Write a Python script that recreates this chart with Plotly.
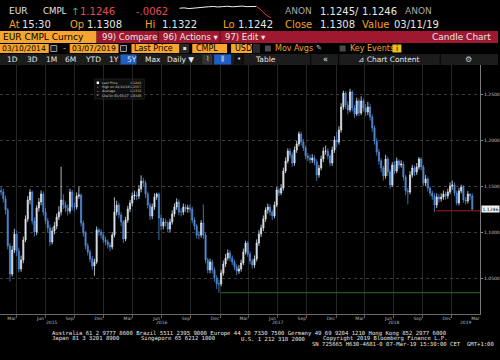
import pandas as pd
import plotly.graph_objects as go

# ---------------- data ----------------
week_dates = pd.date_range("2015-02-11", periods=213, freq="7D")
first_open = 1.1450
closes = [
1.1435, 1.1362, 1.1239, 1.0848, 1.0543, 1.0804, 1.0978, 1.0793, 1.0598, 1.0696,
1.0913, 1.1141, 1.1348, 1.1435, 1.1120, 1.1000, 1.1261, 1.1326, 1.1413, 1.1217,
1.1120, 1.1043, 1.0891, 1.1011, 1.1065, 1.1163, 1.1217, 1.1348, 1.1293, 1.1261,
1.1228, 1.1435, 1.1272, 1.1272, 1.1391, 1.1402, 1.1098, 1.0989, 1.0848, 1.0783,
1.0707, 1.0630, 1.0674, 1.1022, 1.1000, 1.0967, 1.0913, 1.0891, 1.0859, 1.0837,
1.0967, 1.1217, 1.1293, 1.1185, 1.1109, 1.0924, 1.1130, 1.1250, 1.1315, 1.1391,
1.1402, 1.1391, 1.1467, 1.1554, 1.1533, 1.1413, 1.1293, 1.1174, 1.1272, 1.1380,
1.1413, 1.1152, 1.1065, 1.1109, 1.1098, 1.1033, 1.1109, 1.1196, 1.1272, 1.1326,
1.1217, 1.1217, 1.1272, 1.1250, 1.1261, 1.1250, 1.1130, 1.1065, 1.0967, 1.0967,
1.1098, 1.0967, 1.0696, 1.0587, 1.0674, 1.0587, 1.0500, 1.0435, 1.0435, 1.0554,
1.0652, 1.0717, 1.0772, 1.0717, 1.0674, 1.0620, 1.0576, 1.0598, 1.0663, 1.0783,
1.0880, 1.0761, 1.0685, 1.0641, 1.0707, 1.0880, 1.0978, 1.1043, 1.1141, 1.1239,
1.1272, 1.1217, 1.1174, 1.1293, 1.1457, 1.1424, 1.1478, 1.1663, 1.1772, 1.1880,
1.1837, 1.1750, 1.1891, 1.1957, 1.2065, 1.1978, 1.1913, 1.1826, 1.1804, 1.1783,
1.1804, 1.1761, 1.1620, 1.1696, 1.1793, 1.1880, 1.1880, 1.1826, 1.1750, 1.1891,
1.2000, 1.1978, 1.2109, 1.2359, 1.2511, 1.2380, 1.2326, 1.2522, 1.2348, 1.2283,
1.2424, 1.2293, 1.2424, 1.2348, 1.2304, 1.2359, 1.2250, 1.2130, 1.1989, 1.1870,
1.1772, 1.1696, 1.1609, 1.1793, 1.1652, 1.1511, 1.1728, 1.1663, 1.1772, 1.1728,
1.1739, 1.1598, 1.1446, 1.1435, 1.1620, 1.1696, 1.1652, 1.1707, 1.1793, 1.1707,
1.1533, 1.1576, 1.1478, 1.1424, 1.1391, 1.1293, 1.1380, 1.1359, 1.1380, 1.1413,
1.1391, 1.1435, 1.1500, 1.1511, 1.1424, 1.1315, 1.1446, 1.1489, 1.1348, 1.1337,
1.1413, 1.1391, 1.1246]
highs = [
1.1492, 1.1471, 1.1395, 1.1262, 1.0880, 1.0851, 1.1035, 1.1015, 1.0830, 1.0745,
1.0950, 1.1180, 1.1390, 1.1467, 1.1450, 1.1160, 1.1290, 1.1370, 1.1450, 1.1440,
1.1262, 1.1150, 1.1080, 1.1050, 1.1110, 1.1200, 1.1280, 1.1710, 1.1410, 1.1330,
1.1300, 1.1470, 1.1455, 1.1320, 1.1430, 1.1495, 1.1420, 1.1125, 1.1010, 1.0880,
1.0810, 1.0740, 1.0710, 1.1060, 1.1045, 1.1030, 1.0995, 1.0950, 1.0920, 1.0890,
1.1000, 1.1376, 1.1340, 1.1320, 1.1215, 1.1130, 1.1165, 1.1285, 1.1350, 1.1430,
1.1450, 1.1440, 1.1510, 1.1616, 1.1590, 1.1560, 1.1440, 1.1320, 1.1310, 1.1420,
1.1427, 1.1430, 1.1190, 1.1150, 1.1140, 1.1125, 1.1145, 1.1235, 1.1310, 1.1366,
1.1355, 1.1260, 1.1310, 1.1300, 1.1295, 1.1300, 1.1275, 1.1160, 1.1090, 1.1010,
1.1130, 1.1300, 1.0990, 1.0720, 1.0710, 1.0700, 1.0615, 1.0530, 1.0480, 1.0590,
1.0690, 1.0760, 1.0810, 1.0800, 1.0745, 1.0700, 1.0650, 1.0640, 1.0700, 1.0820,
1.0905, 1.0900, 1.0790, 1.0710, 1.0745, 1.0920, 1.1020, 1.1080, 1.1180, 1.1268,
1.1310, 1.1300, 1.1245, 1.1330, 1.1490, 1.1480, 1.1520, 1.1700, 1.1810, 1.1910,
1.1910, 1.1865, 1.1930, 1.1990, 1.2092, 1.2090, 1.2010, 1.1940, 1.1860, 1.1840,
1.1845, 1.1835, 1.1790, 1.1730, 1.1830, 1.1920, 1.1940, 1.1910, 1.1850, 1.1930,
1.2040, 1.2090, 1.2150, 1.2400, 1.2537, 1.2530, 1.2420, 1.2557, 1.2540, 1.2380,
1.2460, 1.2450, 1.2475, 1.2450, 1.2390, 1.2415, 1.2395, 1.2280, 1.2160, 1.2020,
1.1900, 1.1800, 1.1720, 1.1840, 1.1820, 1.1680, 1.1760, 1.1770, 1.1810, 1.1790,
1.1780, 1.1765, 1.1620, 1.1480, 1.1660, 1.1730, 1.1720, 1.1750, 1.1815, 1.1810,
1.1730, 1.1620, 1.1600, 1.1500, 1.1450, 1.1420, 1.1420, 1.1410, 1.1420, 1.1450,
1.1440, 1.1470, 1.1540, 1.1560, 1.1540, 1.1450, 1.1480, 1.1515, 1.1510, 1.1380,
1.1445, 1.1420, 1.1420]
lows = [
1.1398, 1.1320, 1.1190, 1.0810, 1.0462, 1.0518, 1.0772, 1.0740, 1.0560, 1.0568,
1.0660, 1.0890, 1.1110, 1.1300, 1.1080, 1.0950, 1.0965, 1.1222, 1.1290, 1.1180,
1.1085, 1.0990, 1.0850, 1.0865, 1.0975, 1.1030, 1.1130, 1.1180, 1.1250, 1.1215,
1.1180, 1.1200, 1.1235, 1.1225, 1.1245, 1.1360, 1.1060, 1.0950, 1.0810, 1.0745,
1.0670, 1.0590, 1.0524, 1.0650, 1.0960, 1.0930, 1.0880, 1.0855, 1.0820, 1.0790,
1.0810, 1.0940, 1.1180, 1.1150, 1.1065, 1.0880, 1.0900, 1.1100, 1.1215, 1.1280,
1.1350, 1.1345, 1.1360, 1.1430, 1.1490, 1.1370, 1.1255, 1.1130, 1.1140, 1.1240,
1.1350, 1.0912, 1.1020, 1.1030, 1.1060, 1.0995, 1.1000, 1.1080, 1.1165, 1.1240,
1.1180, 1.1170, 1.1185, 1.1215, 1.1210, 1.1212, 1.1095, 1.1025, 1.0930, 1.0920,
1.0940, 1.0925, 1.0660, 1.0550, 1.0550, 1.0550, 1.0460, 1.0380, 1.0340, 1.0410,
1.0525, 1.0620, 1.0690, 1.0680, 1.0640, 1.0585, 1.0530, 1.0545, 1.0570, 1.0640,
1.0755, 1.0730, 1.0650, 1.0600, 1.0610, 1.0680, 1.0850, 1.0945, 1.1010, 1.1110,
1.1200, 1.1180, 1.1130, 1.1150, 1.1270, 1.1390, 1.1400, 1.1450, 1.1640, 1.1745,
1.1800, 1.1710, 1.1720, 1.1860, 1.1930, 1.1940, 1.1880, 1.1790, 1.1770, 1.1745,
1.1750, 1.1725, 1.1555, 1.1590, 1.1670, 1.1760, 1.1840, 1.1790, 1.1715, 1.1720,
1.1860, 1.1920, 1.1950, 1.2080, 1.2330, 1.2340, 1.2280, 1.2300, 1.2310, 1.2240,
1.2260, 1.2260, 1.2270, 1.2310, 1.2260, 1.2270, 1.2210, 1.2090, 1.1950, 1.1830,
1.1730, 1.1650, 1.1560, 1.1580, 1.1610, 1.1470, 1.1490, 1.1630, 1.1640, 1.1690,
1.1700, 1.1560, 1.1400, 1.1300, 1.1410, 1.1590, 1.1610, 1.1620, 1.1680, 1.1670,
1.1500, 1.1500, 1.1440, 1.1390, 1.1350, 1.1216, 1.1260, 1.1320, 1.1330, 1.1350,
1.1350, 1.1360, 1.1410, 1.1460, 1.1390, 1.1290, 1.1290, 1.1420, 1.1320, 1.1300,
1.1310, 1.1350, 1.1242]
opens = [first_open] + closes[:-1]

price_ticks = [1.05, 1.10, 1.15, 1.20, 1.25]
price_tick_labels = ["1.0500", "1.1000", "1.1500", "1.2000", "1.2500"]
month_tick_dates = ["2015-03-16", "2015-06-15", "2015-09-15", "2015-12-16",
                    "2016-03-16", "2016-06-15", "2016-09-15", "2016-12-16",
                    "2017-03-16", "2017-06-15", "2017-09-15", "2017-12-16",
                    "2018-03-16", "2018-06-15", "2018-09-15", "2018-12-16",
                    "2019-03-16"]
month_labels = ["Mar", "Jun", "Sep", "Dec"] * 4 + ["Mar"]
quarter_starts = ["2015-04-01", "2015-07-01", "2015-10-01", "2016-01-01",
                  "2016-04-01", "2016-07-01", "2016-10-01", "2017-01-01",
                  "2017-04-01", "2017-07-01", "2017-10-01", "2018-01-01",
                  "2018-04-01", "2018-07-01", "2018-10-01", "2019-01-01"]
year_labels = ["2015", "2016", "2017", "2018", "2019"]
year_label_dates = ["2015-07-20", "2016-07-01", "2017-07-01", "2018-07-01", "2019-02-14"]

low_date, low_value = "2017-01-03", 1.0340
red_date, red_value = "2018-11-12", 1.1230
x_start, x_end = "2015-02-07 14:00", "2019-03-30 12:00"

spark_white = [1.1300, 1.1302, 1.1298, 1.1301, 1.1306, 1.1309, 1.1308, 1.1310, 1.1307,
               1.1309, 1.1311, 1.1308, 1.1310, 1.1312, 1.1309, 1.1311, 1.1310]
spark_red = [1.1310, 1.1290, 1.1262, 1.1246]

legend_rows = [("Last Price", "1.1246"), ("High on 02/16/18", "1.2557"),
               ("Average", "1.1332"), ("Low on 01/03/17", "1.0340")]

# ---------------- helpers ----------------
W, H = 500, 360
def P(x):
    return x / W
def Q(y):
    return 1 - y / H

WHITE = "#e6e6e6"
ORANGE = "#f5a12b"
RED = "#e8475a"
GREY = "#a8a8a8"
BOX = "#f6a530"
BAR = "#a0182f"
UP = "#dde5ee"
DOWN = "#4f8ad4"

shapes = []
annots = []

def rect(x0, y0, x1, y1, fill, line=None):
    shapes.append(dict(type="rect", xref="paper", yref="paper", x0=P(x0), x1=P(x1),
                       y0=Q(y1), y1=Q(y0), fillcolor=fill,
                       line=dict(width=0 if line is None else 1, color=line or fill),
                       layer="below"))

def vline(x, y0, y1, color, width=1):
    shapes.append(dict(type="line", xref="paper", yref="paper", x0=P(x), x1=P(x),
                       y0=Q(y1), y1=Q(y0), line=dict(color=color, width=width)))

def txt(s, x, y, color=WHITE, size=10, anchor="left", family="DejaVu Sans"):
    annots.append(dict(text=s, x=P(x), y=Q(y), xref="paper", yref="paper",
                       xanchor=anchor, yanchor="middle", showarrow=False,
                       font=dict(color=color, size=size, family=family)))

# ---------------- figure ----------------
fig = go.Figure()
fig.add_trace(go.Candlestick(
    x=week_dates, open=opens, high=highs, low=lows, close=closes,
    increasing=dict(line=dict(color=UP, width=0.8), fillcolor=UP),
    decreasing=dict(line=dict(color=DOWN, width=0.8), fillcolor=DOWN),
    whiskerwidth=0, showlegend=False, hoverinfo="skip", xaxis="x", yaxis="y"))

n_w = len(spark_white)
fig.add_trace(go.Scatter(x=list(range(n_w)), y=spark_white, mode="lines",
                         line=dict(color="#f0f0f0", width=1), xaxis="x2", yaxis="y2",
                         showlegend=False, hoverinfo="skip"))
fig.add_trace(go.Scatter(x=list(range(n_w - 1, n_w - 1 + len(spark_red))), y=spark_red,
                         mode="lines", line=dict(color="#e03030", width=1),
                         xaxis="x2", yaxis="y2", showlegend=False, hoverinfo="skip"))

# level lines
shapes.append(dict(type="line", xref="x", yref="y", x0=low_date, x1=x_end,
                   y0=low_value, y1=low_value, line=dict(color="#2a6a2a", width=1)))
shapes.append(dict(type="line", xref="x", yref="y", x0=red_date, x1=x_end,
                   y0=red_value, y1=red_value, line=dict(color="#9a2020", width=1)))

# last price tag
annots.append(dict(text=f"{closes[-1]:.4f}", x=P(483), y=closes[-1], xref="paper", yref="y",
                   xanchor="left", yanchor="middle", showarrow=False, bgcolor="#f2f2f2",
                   borderpad=0.5, font=dict(color="#000000", size=4.5, family="DejaVu Sans")))

# year labels
for lab, d in zip(year_labels, year_label_dates):
    annots.append(dict(text=lab, x=d, y=Q(322), xref="x", yref="paper", xanchor="center",
                       yanchor="middle", showarrow=False,
                       font=dict(color="#b8b8b8", size=4.5, family="DejaVu Sans")))

# legend box
rect(95, 79, 145, 99, "#0e0e0e", "#1c1c1c")
rect(97, 81.5, 99.5, 84, "#ffffff")
for k, (lab, val) in enumerate(legend_rows):
    yy = 83 + 4.2 * k
    if k > 0:
        vline(98.2, yy - 0.4, yy + 0.4, "#bbbbbb")
    txt(lab, 100.5, yy, "#d0d0d0", 3.2)
    txt(val, 144, yy, "#d0d0d0", 3.2, anchor="right")

# ---- header row 1 ----
txt("EUR", 7, 11, WHITE, 9)
txt("CMPL", 41, 11, WHITE, 8.6)
txt("↑", 69, 11, "#3cb371", 10)
txt("1.1246", 78, 11, RED, 10)
txt("-.0062", 135, 11, RED, 10)
txt("ANON", 284, 11, GREY, 9)
txt("1.1245", 319, 11, WHITE, 10)
txt("/", 354, 11, WHITE, 10)
txt("1.1246", 361, 11, WHITE, 10)
txt("ANON", 405, 11, GREY, 9)
# ---- header row 2 ----
txt("At", 7, 25, ORANGE, 10)
txt("15:30", 20, 25, WHITE, 10)
txt("Op", 68, 25, ORANGE, 10)
txt("1.1308", 85, 25, WHITE, 10)
txt("Hi", 144, 25, ORANGE, 10)
txt("1.1322", 161, 25, WHITE, 10)
txt("Lo", 222, 25, ORANGE, 10)
txt("1.1242", 237, 25, WHITE, 10)
txt("Close", 284, 25, ORANGE, 10)
txt("1.1308", 319, 25, WHITE, 10)
txt("Value", 361, 25, ORANGE, 10)
txt("03/11/19", 394, 25, WHITE, 10)
# ---- header row 3 ----
rect(0, 31, 97, 43, BOX)
rect(97, 31, 500, 43, BAR)
vline(159, 31, 43, "#5c0c1a")
vline(221, 31, 43, "#5c0c1a")
txt("EUR CMPL Curncy", 1, 37, "#000000", 9)
txt("99) Compare", 100, 37, WHITE, 8.5)
txt("96) Actions ▾", 162, 37, WHITE, 8.5)
txt("97) Edit ▾", 224, 37, WHITE, 8.5)
txt("Candle Chart", 495, 37, WHITE, 9, anchor="right")
# ---- header row 4 ----
for x0, x1 in [(0, 49), (70, 119), (132, 180), (193, 228), (232, 253)]:
    rect(x0, 44, x1, 53, BOX)
rect(51, 45.5, 57, 51.5, "#1a1a1a", "#9a9a9a")
rect(121, 45.5, 127, 51.5, "#1a1a1a", "#9a9a9a")
rect(181, 44, 190, 53, "#2a2a2a")
rect(254, 44, 261, 53, "#2a2a2a")
rect(184, 47, 187, 50, "#dddddd")
rect(266, 45.5, 272, 51.5, "#4a4a4a")
rect(341, 45.5, 347, 51.5, "#4a4a4a")
rect(394, 44.5, 403, 52.5, "#e8c21a")
txt("03/10/2014", 0.5, 48.5, "#000000", 7.6)
txt("-", 61, 48.5, ORANGE, 8)
txt("03/07/2019", 70.5, 48.5, "#000000", 7.6)
txt("Last Price", 133, 48.5, "#000000", 8)
txt("CMPL", 195, 48.5, "#000000", 8)
txt("USD", 234, 48.5, "#000000", 8)
txt("Mov Avgs", 274, 48.5, ORANGE, 8)
txt("✎", 315, 48.5, "#c8c8c8", 7)
txt("Key Events", 349, 48.5, ORANGE, 8)
txt("i", 398.5, 48.5, "#000000", 7.5, anchor="center")
# ---- header row 5 ----
rect(0, 54, 500, 65, "#1c1c1c")
rect(121, 54.5, 137, 64.5, "#1d5fc4")
rect(203, 54.5, 213, 64.5, "#333333")
rect(215, 54.5, 232, 64.5, "#1d5fc4")
rect(235, 54.5, 244, 64.5, "#101010")
for xs in [244, 312, 340, 442]:
    vline(xs, 54, 65, "#050505")
for s, x in [("1D", 5), ("3D", 25), ("1M", 44), ("6M", 63), ("YTD", 83), ("1Y", 107),
             ("5Y", 125), ("Max", 144), ("Daily ▼", 166)]:
    txt(s, x, 59.5, WHITE, 7.5)
txt("⌇", 208, 59.5, "#cfcfcf", 7, anchor="center")
txt("⫼", 223.5, 59.5, WHITE, 7, anchor="center")
txt("•", 239.5, 59.5, WHITE, 7, anchor="center")
txt("Table", 254, 59.5, WHITE, 7.5)
txt("«", 322, 59.5, WHITE, 8)
txt("⊿ Chart Content", 357, 59.5, WHITE, 7.5)
txt("⚙", 470, 59.5, "#d0d0d0", 8, anchor="center")

# ---- footer ----
MONO = "DejaVu Sans Mono"
txt("Australia 61 2 9777 8600 Brazil 5511 2395 9000 Europe 44 20 7330 7500 Germany 49 69 9204 1210 Hong Kong 852 2977 6000",
    50.5, 333.3, WHITE, 5.6, family=MONO)
txt("Japan 81 3 3201 8900", 50.5, 338.5, WHITE, 5.6, family=MONO)
txt("Singapore 65 6212 1000", 139.3, 338.5, WHITE, 5.6, family=MONO)
txt("U.S. 1 212 318 2000", 240, 338.5, WHITE, 5.6, family=MONO)
txt("Copyright 2019 Bloomberg Finance L.P.", 322.7, 338.5, WHITE, 5.6, family=MONO)
txt("SN 725665 H630-4681-0 07-Mar-19 15:30:00 CET  GMT+1:00", 311.7, 344, WHITE, 5.6, family=MONO)

y_hi = 1.25 + (94 - 65) / 920
y_lo = 1.25 - (313.7 - 94) / 920

fig.update_layout(
    width=W, height=H, margin=dict(l=0, r=0, t=0, b=0),
    paper_bgcolor="#000000", plot_bgcolor="#000000",
    showlegend=False, boxgap=0.3,
    xaxis=dict(domain=[0, 482 / W], range=[x_start, x_end], type="date",
               tickmode="array", tickvals=month_tick_dates, ticktext=month_labels,
               tickfont=dict(size=4.5, color="#b8b8b8", family="DejaVu Sans"),
               ticks="", showgrid=False, showline=True, linecolor="#6a6a6a", linewidth=1,
               zeroline=False, rangeslider=dict(visible=False), anchor="y", fixedrange=True,
               minor=dict(tickmode="array", tickvals=quarter_starts, showgrid=True,
                          gridcolor="#262626", gridwidth=1, ticks="outside", ticklen=3,
                          tickcolor="#5a5a5a")),
    yaxis=dict(domain=[Q(313.7), Q(65)], range=[y_lo, y_hi], side="right",
               tickmode="array", tickvals=price_ticks, ticktext=price_tick_labels,
               tickfont=dict(size=4.5, color="#c0c0c0", family="DejaVu Sans"),
               ticks="outside", ticklen=2, tickcolor="#888888",
               showgrid=True, gridcolor="#3c3c3c", griddash="dot", gridwidth=1,
               showline=True, linecolor="#7a7a7a", zeroline=False, anchor="x",
               fixedrange=True),
    xaxis2=dict(domain=[P(180), P(272)], range=[0, n_w - 1 + len(spark_red) - 1],
                visible=False, anchor="y2", fixedrange=True),
    yaxis2=dict(domain=[Q(19), Q(5)], range=[1.1240, 1.1318], visible=False,
                anchor="x2", fixedrange=True),
    shapes=shapes, annotations=annots,
)

fig.write_html("out.html")
